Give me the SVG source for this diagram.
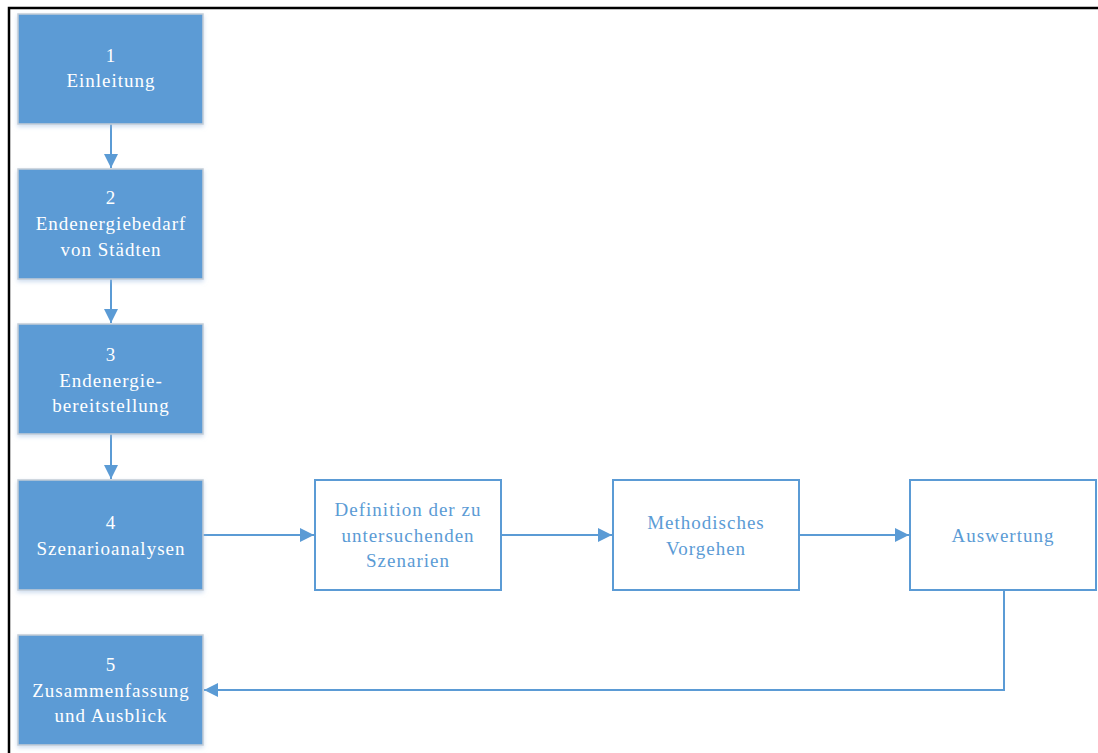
<svg xmlns="http://www.w3.org/2000/svg" width="1098" height="753" viewBox="0 0 1098 753">
<style>
.blue{fill:#5b9bd5;stroke:#c4cdd6;stroke-width:1.5}
.white{fill:#ffffff;stroke:#5b9bd5;stroke-width:2}
.tw{font-family:"Liberation Serif",serif;font-size:19px;letter-spacing:1px;fill:#ffffff;text-anchor:middle}
.tb{font-family:"Liberation Serif",serif;font-size:19px;letter-spacing:1px;fill:#5b9bd5;text-anchor:middle}
.conn{fill:none;stroke:#5b9bd5;stroke-width:2}
</style>
<defs>
<marker id="arr" viewBox="0 0 10 10" refX="10" refY="5" markerWidth="7" markerHeight="7" markerUnits="userSpaceOnUse" orient="auto">
<path d="M0,0 L10,5 L0,10 z" fill="#5b9bd5"/>
</marker>
<marker id="ah" viewBox="0 0 14 14" refX="14" refY="7" markerWidth="14" markerHeight="14" markerUnits="userSpaceOnUse" orient="auto">
<path d="M0,0 L14,7 L0,14 z" fill="#5b9bd5"/>
</marker>
<filter id="sh" x="-10%" y="-10%" width="120%" height="130%">
<feDropShadow dx="0" dy="2" stdDeviation="2" flood-color="#9dbbe0" flood-opacity="0.5"/>
</filter>
</defs>
<rect width="1098" height="753" fill="#ffffff"/>
<path d="M9,753 L9,8 L1098,8" fill="none" stroke="#000000" stroke-width="2.5"/>
<g id="connectors">
<path class="conn" d="M111,124 L111,168" marker-end="url(#ah)"/>
<path class="conn" d="M111,279 L111,323" marker-end="url(#ah)"/>
<path class="conn" d="M111,434 L111,479" marker-end="url(#ah)"/>
<path class="conn" d="M203,535 L314,535" marker-end="url(#ah)"/>
<path class="conn" d="M501,535 L612,535" marker-end="url(#ah)"/>
<path class="conn" d="M799,535 L909,535" marker-end="url(#ah)"/>
<path class="conn" d="M1004,590 L1004,690 L204,690" marker-end="url(#ah)"/>
</g>
<g id="n1"><rect class="blue" filter="url(#sh)" x="18" y="14" width="185" height="110"/>
<text class="tw" x="111" y="62">1</text><text class="tw" x="111" y="87">Einleitung</text></g>
<g id="n2"><rect class="blue" filter="url(#sh)" x="18" y="169" width="185" height="110"/>
<text class="tw" x="111" y="204">2</text><text class="tw" x="111" y="230">Endenergiebedarf</text><text class="tw" x="111" y="256">von Städten</text></g>
<g id="n3"><rect class="blue" filter="url(#sh)" x="18" y="324" width="185" height="110"/>
<text class="tw" x="111" y="361">3</text><text class="tw" x="111" y="387">Endenergie-</text><text class="tw" x="111" y="412">bereitstellung</text></g>
<g id="n4"><rect class="blue" filter="url(#sh)" x="18" y="480" width="185" height="110"/>
<text class="tw" x="111" y="529">4</text><text class="tw" x="111" y="555">Szenarioanalysen</text></g>
<g id="n5"><rect class="blue" filter="url(#sh)" x="18" y="635" width="185" height="110"/>
<text class="tw" x="111" y="671">5</text><text class="tw" x="111" y="697">Zusammenfassung</text><text class="tw" x="111" y="722">und Ausblick</text></g>
<g id="nA"><rect class="white" x="315" y="480" width="186" height="110"/>
<text class="tb" x="408" y="516">Definition der zu</text><text class="tb" x="408" y="542">untersuchenden</text><text class="tb" x="408" y="567">Szenarien</text></g>
<g id="nB"><rect class="white" x="613" y="480" width="186" height="110"/>
<text class="tb" x="706" y="529">Methodisches</text><text class="tb" x="706" y="555">Vorgehen</text></g>
<g id="nC"><rect class="white" x="910" y="480" width="186" height="110"/>
<text class="tb" x="1003" y="542">Auswertung</text></g>
</svg>
